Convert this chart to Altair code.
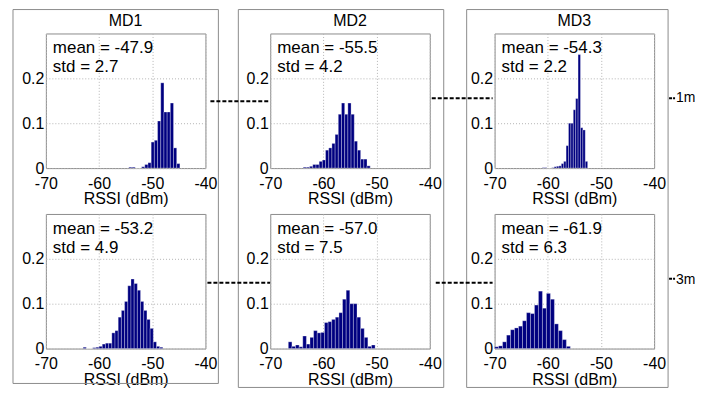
import altair as alt
import pandas as pd

# ---------------- data ----------------
devices = ["MD1", "MD2", "MD3"]
distances = ["1m", "3m"]
means = [-47.9, -55.5, -54.3, -53.2, -57.0, -61.9]
stds = [2.7, 4.2, 2.2, 4.9, 7.5, 6.3]

# histogram: left edge of first bin, bin width, relative frequencies
bin_start = [-54.4, -63.8, -61.05, -63.0, -66.6, -70.0]
bin_width = [0.6, 0.6, 0.45, 0.6, 0.68, 0.75]
freq_md1_1m = [0.002, 0.002, 0, 0, 0.003, 0.008, 0.012, 0.058, 0.062, 0.105,
               0.19, 0.125, 0.125, 0.145, 0.045, 0.01]
freq_md2_1m = [0.002, 0.002, 0.004, 0.008, 0.008, 0.015, 0.018, 0.04, 0.045,
               0.055, 0.075, 0.12, 0.145, 0.12, 0.145, 0.12, 0.06, 0.04, 0.02,
               0.02, 0.005]
freq_md3_1m = [0.001, 0.001, 0, 0, 0.001, 0.003, 0.004, 0.005, 0.01, 0.015,
               0.05, 0.1, 0.1, 0.13, 0.155, 0.253, 0.09, 0.085, 0.015]
freq_md1_3m = [0.003, 0, 0, 0.002, 0.003, 0.005, 0.01, 0.012, 0.012, 0.035,
               0.04, 0.07, 0.085, 0.105, 0.14, 0.155, 0.145, 0.13, 0.105,
               0.085, 0.065, 0.045, 0.015, 0.005, 0.003]
freq_md2_3m = [0.015, 0.005, 0.008, 0.004, 0.028, 0.01, 0.025, 0.04, 0.035,
               0.036, 0.058, 0.06, 0.065, 0.07, 0.08, 0.11, 0.13, 0.1, 0.1,
               0.07, 0.045, 0.025, 0.005, 0.008]
freq_md3_3m = [0.004, 0.006, 0.015, 0.03, 0.042, 0.046, 0.05, 0.062, 0.08,
               0.078, 0.097, 0.128, 0.09, 0.123, 0.11, 0.055, 0.04, 0.02, 0.005]
freqs = [freq_md1_1m, freq_md2_1m, freq_md3_1m, freq_md1_3m, freq_md2_3m, freq_md3_3m]

x_ticks = [-70, -60, -50, -40]
y_ticks = [0, 0.1, 0.2]

# ---------------- layout / style ----------------
FONT = "Liberation Sans"
NAVY = "#000080"
GRAY = "#8c8c8c"
W, H = 160, 135
COL_GAP, ROW_GAP = 65, 46
DECO_X, DECO_Y = 45, 213           # page position of the panel that draws decorations
PAGE_RIGHT = 695                   # last visible page column of the svg
FAR_RIGHT = 740                    # invisible anchor that fixes the svg width

# column boxes in page pixels: (left, right, top, bottom)
boxes = [(12, 218, 8, 383), (238, 444, 8, 387), (467, 669, 8, 387)]
# dashed connectors in page pixels: (x1, x2, y, dash)
dashes = [(210, 270, 100, [4, 2]), (432, 493, 97, [4, 2]), (670, 676, 97, [3, 1]),
          (207, 270, 282, [4, 2]), (436, 493, 282, [4, 2]), (670, 676, 278, [3, 1])]
dist_labels = [(677, 97), (677, 279)]


def rx(v):
    return v - DECO_X


def ry(v):
    return v - DECO_Y


one = pd.DataFrame({"k": [0]})

x_axis = alt.Axis(values=x_ticks, title="RSSI (dBm)", grid=True, gridDash=[1, 2],
                  gridColor="#b4b4b4", domain=False, ticks=False,
                  labelFont=FONT, labelFontSize=16, labelColor="black",
                  labelPadding=7, labelFlush=False, labelOverlap=False,
                  labelExpr="'' + datum.value",
                  titleFont=FONT, titleFontSize=16, titleFontWeight="normal",
                  titleColor="black", titlePadding=0)
y_axis = alt.Axis(values=y_ticks, title=None, grid=True, gridDash=[1, 2],
                  gridColor="#b4b4b4", domain=False, ticks=False,
                  labelFont=FONT, labelFontSize=16, labelColor="black",
                  labelPadding=2, labelFlush=False, labelOverlap=False,
                  labelExpr="'' + datum.value")


def make_panel(i):
    hs = freqs[i]
    s, w = bin_start[i], bin_width[i]
    df = pd.DataFrame({
        "lo": [s + k * w for k in range(len(hs))],
        "hi": [s + (k + 1) * w for k in range(len(hs))],
        "p": hs,
    })
    bars = alt.Chart(df).mark_rect(
        color=NAVY, stroke="white", strokeWidth=0.5, strokeOpacity=0.6
    ).encode(
        x=alt.X("lo:Q", scale=alt.Scale(domain=[-70, -40], nice=False, zero=False), axis=x_axis),
        x2="hi:Q",
        y=alt.Y("p:Q", scale=alt.Scale(domain=[0, 0.3], nice=False), axis=y_axis),
        y2=alt.datum(0),
    )
    stats = pd.DataFrame({"t": [f"mean = {means[i]:.1f}", f"std = {stds[i]:.1f}"],
                          "yy": [15, 34]})
    txt = alt.Chart(stats).mark_text(
        align="left", baseline="middle", font=FONT, fontSize=17, color="black"
    ).encode(x=alt.value(7), y=alt.Y("yy:Q", scale=None), text="t:N")

    layers = [bars, txt]
    if i == 3:
        for (l, r, t, b) in boxes:
            layers.append(alt.Chart(one).mark_rect(
                fill="transparent", stroke=GRAY, strokeWidth=1
            ).encode(x=alt.value(rx(l)), x2=alt.value(rx(r)),
                     y=alt.value(ry(t)), y2=alt.value(ry(b))))
        for (a, b, c, d) in dashes:
            layers.append(alt.Chart(one).mark_rule(
                color="black", strokeWidth=2, strokeDash=d
            ).encode(x=alt.value(rx(a)), x2=alt.value(rx(b)), y=alt.value(ry(c))))
        for (lab, (px, py)) in zip(distances, dist_labels):
            layers.append(alt.Chart(one).mark_text(
                align="left", baseline="middle", font=FONT, fontSize=14, color="black"
            ).encode(x=alt.value(rx(px)), y=alt.value(ry(py)), text=alt.value(lab)))
        # invisible anchor so that the svg width is fixed
        layers.append(alt.Chart(one).mark_rule(strokeOpacity=0, color="white").encode(
            x=alt.value(rx(FAR_RIGHT)), y=alt.value(ry(100)), y2=alt.value(ry(101))))

    props = dict(width=W, height=H)
    if i < 3:
        props["title"] = alt.TitleParams(devices[i], font=FONT, fontSize=16,
                                         fontWeight="normal", color="black", offset=5)
    return alt.layer(*layers).properties(**props)


panels = [make_panel(i) for i in range(6)]

chart = alt.concat(*panels, columns=3).properties(
    spacing={"row": ROW_GAP, "column": COL_GAP},
    bounds="flush",
    padding={"left": 4, "top": 0, "right": PAGE_RIGHT - FAR_RIGHT, "bottom": 0},
    background="white",
).configure_view(stroke=GRAY, strokeWidth=1)

chart.save("out.html", embed_options={"renderer": "svg", "actions": False})
